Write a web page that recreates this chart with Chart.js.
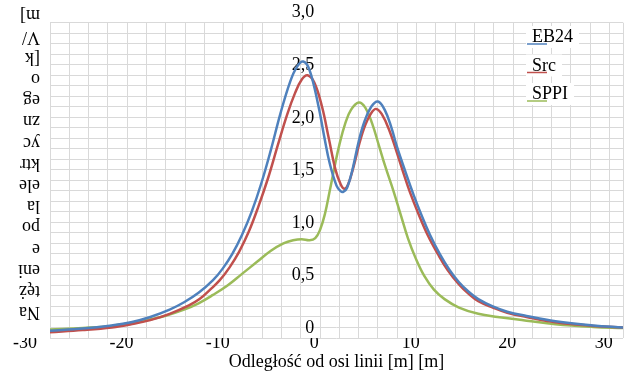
<!DOCTYPE html>
<html>
<head>
<meta charset="utf-8">
<script src="https://cdn.jsdelivr.net/npm/chart.js@4/dist/chart.umd.min.js"></script>
<style>
  html, body { margin: 0; padding: 0; background: #fff; }
  canvas { display: block; }
</style>
</head>
<body>
<canvas id="chart" width="633" height="376"></canvas>
<script>
// Electric field strength across the line corridor, three calculation methods.
const seriesNames = ['EB24', 'Src', 'SPPI'];
const seriesColors = ['#4f81bd', '#c0504d', '#9bbb59'];

// Distance from the line axis [m] and field strength [kV/m] for each method
const eb24Dist = [-27.4, -24, -21, -19, -17, -15, -13.5, -12, -10.5, -9.5, -8.5, -7.5, -6.5, -5.5, -4.5, -3.5, -2.5, -1.8, -1.15, -0.5, 0.4, 1.0, 1.6, 2.3, 2.7, 3.0, 3.4, 4.0, 4.6, 5.2, 5.9, 6.6, 7.3, 8.0, 8.5, 9.3, 10.3, 11.2, 12, 13, 14, 15, 16, 17, 18.5, 20, 22, 25, 28.9, 32];
const eb24Field = [0.07, 0.09, 0.12, 0.15, 0.20, 0.27, 0.34, 0.43, 0.55, 0.66, 0.80, 0.98, 1.20, 1.47, 1.79, 2.14, 2.44, 2.58, 2.63, 2.55, 2.22, 1.93, 1.66, 1.45, 1.40, 1.39, 1.43, 1.62, 1.87, 2.06, 2.20, 2.25, 2.17, 2.00, 1.84, 1.62, 1.36, 1.15, 0.98, 0.80, 0.65, 0.53, 0.44, 0.37, 0.30, 0.25, 0.21, 0.16, 0.12, 0.10];

const srcDist = [-27.4, -24, -21, -19, -17, -15, -13, -11.9, -10.8, -9.8, -8.8, -7.8, -6.8, -5.8, -4.8, -3.8, -2.8, -2.0, -1.3, -0.7, 0.0, 0.8, 1.5, 2.2, 2.7, 3.1, 3.5, 4.1, 4.7, 5.3, 5.9, 6.4, 7.0, 7.8, 8.5, 9.2, 9.9, 10.8, 11.8, 12.8, 13.8, 15, 16, 17, 18.5, 20, 22, 25, 28.9, 32];
const srcField = [0.055, 0.075, 0.10, 0.13, 0.17, 0.23, 0.31, 0.37, 0.46, 0.55, 0.67, 0.82, 1.01, 1.25, 1.52, 1.83, 2.13, 2.33, 2.46, 2.50, 2.43, 2.20, 1.90, 1.60, 1.47, 1.42, 1.46, 1.64, 1.86, 2.03, 2.14, 2.18, 2.13, 1.97, 1.78, 1.58, 1.39, 1.18, 0.97, 0.80, 0.65, 0.51, 0.42, 0.35, 0.29, 0.24, 0.20, 0.15, 0.115, 0.10];

const sppiDist = [-27.4, -24, -21, -18, -15.5, -13.5, -12, -10.5, -9, -7.5, -6, -4.5, -3.2, -2.2, -1.3, -0.5, 0.1, 0.6, 1.1, 1.6, 2.1, 2.6, 3.2, 3.8, 4.6, 5.3, 6.0, 6.7, 7.4, 8.2, 9.0, 9.7, 10.5, 11.4, 12.4, 13.5, 15, 17, 19, 22, 25, 28.9, 32];
const sppiField = [0.08, 0.095, 0.115, 0.16, 0.21, 0.27, 0.33, 0.41, 0.50, 0.61, 0.72, 0.83, 0.90, 0.93, 0.94, 0.93, 0.95, 1.03, 1.18, 1.40, 1.63, 1.84, 2.04, 2.17, 2.24, 2.19, 2.04, 1.83, 1.62, 1.40, 1.16, 0.95, 0.76, 0.59, 0.46, 0.37, 0.29, 0.23, 0.20, 0.165, 0.13, 0.105, 0.095];

// Axis ranges and labelled ticks
const xMin = -27.4, xMax = 32, xGridStep = 2;
const xTickLabels = [-30, -20, -10, 0, 10, 20, 30];
const yMin = 0, yMax = 3, yGridStep = 0.1, yLabelStep = 0.5;

const xTitle = 'Odległość od osi linii [m] [m]';
const yTitleLines = ['Na', 'tęż', 'eni', 'e', 'po', 'la', 'ele', 'ktr', 'yc', 'zn', 'eg', 'o', '[k', 'V/', 'm]'];

const serif = '"Liberation Serif", "Times New Roman", serif';
Chart.defaults.font.family = serif;
Chart.defaults.font.size = 18;
Chart.defaults.color = '#000';

const toPoints = (xs, ys) => xs.map((x, i) => ({ x, y: ys[i] }));
const fieldData = [
  toPoints(eb24Dist, eb24Field),
  toPoints(srcDist, srcField),
  toPoints(sppiDist, sppiField)
];

const GRID = '#d9d9d9';

// Upside-down, wrapped value-axis caption at the left edge
const yTitlePlugin = {
  id: 'yTitleStack',
  afterDraw(chart) {
    const { ctx, chartArea } = chart;
    ctx.save();
    ctx.font = '18px ' + serif;
    ctx.fillStyle = '#000';
    ctx.textAlign = 'left';
    ctx.textBaseline = 'middle';
    const step = 21.2;
    const base = chartArea.bottom - 26;
    yTitleLines.forEach((line, i) => {
      ctx.save();
      ctx.translate(40, base - i * step);
      ctx.rotate(Math.PI);
      ctx.fillText(line, 0, 0);
      ctx.restore();
    });
    ctx.restore();
  }
};

// Legend entries inside the top-right corner of the plot
const legendPlugin = {
  id: 'cornerLegend',
  afterDatasetsDraw(chart) {
    const { ctx, chartArea } = chart;
    ctx.save();
    ctx.font = '18px ' + serif;
    ctx.textAlign = 'left';
    ctx.textBaseline = 'alphabetic';
    const x0 = chartArea.right - 91;
    chart.data.datasets.forEach((ds, i) => {
      const yb = chartArea.top + 19.3 + 28.5 * i;
      const w = ctx.measureText(ds.label).width;
      ctx.fillStyle = '#fff';
      ctx.fillRect(x0 - 6, yb - 16, w + 12, 22);
      ctx.strokeStyle = ds.borderColor;
      ctx.lineWidth = 1.5;
      ctx.beginPath();
      ctx.moveTo(x0 - 5, yb + 2);
      ctx.lineTo(x0 + 15, yb + 2);
      ctx.stroke();
      ctx.fillStyle = '#000';
      ctx.fillText(ds.label, x0, yb);
    });
    ctx.restore();
  }
};

new Chart(document.getElementById('chart'), {
  type: 'line',
  data: {
    datasets: seriesNames.map((name, i) => ({
      label: name,
      data: fieldData[i],
      borderColor: seriesColors[i],
      backgroundColor: seriesColors[i],
      borderWidth: 2.5,
      pointRadius: 0,
      fill: false,
      tension: 0.4
    }))
  },
  options: {
    responsive: false,
    animation: false,
    layout: { padding: { left: 50, right: 10, top: 22.7, bottom: 3.2 } },
    plugins: { legend: { display: false }, tooltip: { enabled: false } },
    scales: {
      x: {
        type: 'linear',
        min: xMin,
        max: xMax,
        afterBuildTicks(scale) {
          const grid = [];
          for (let v = xMin; v < xMax - 0.5; v += xGridStep) grid.push({ value: +v.toFixed(3) });
          grid.push({ value: xMax });
          const labelled = xTickLabels.map(v => ({ value: v, labelled: true }));
          // keep unlabelled edge ticks first and last so no side padding is added
          scale.ticks = [grid[0], ...labelled, ...grid.slice(1)];
        },
        ticks: {
          autoSkip: false,
          maxRotation: 0,
          padding: -6,
          font: { size: 18 },
          callback: (v, i, ticks) => (ticks[i] && ticks[i].labelled ? String(v) : '')
        },
        grid: {
          drawTicks: false,
          color: c => (c.tick && c.tick.labelled ? 'rgba(0,0,0,0)' : GRID),
          lineWidth: 1
        },
        border: { display: false },
        title: {
          display: true,
          text: xTitle,
          font: { size: 18 },
          padding: { top: 3.6, bottom: 0 }
        }
      },
      y: {
        type: 'linear',
        position: { x: 0 },
        min: yMin,
        max: yMax,
        ticks: {
          stepSize: yGridStep,
          autoSkip: false,
          padding: 0,
          labelOffset: -10,
          font: { size: 18 },
          callback: v => {
            const r = v / yLabelStep;
            if (Math.abs(r - Math.round(r)) > 1e-6) return '';
            return Math.abs(v) < 1e-9 ? '0' : v.toFixed(1).replace('.', ',');
          }
        },
        grid: { drawTicks: false, color: GRID, lineWidth: 1 },
        border: { display: false }
      }
    }
  },
  plugins: [yTitlePlugin, legendPlugin]
});
</script>
</body>
</html>
